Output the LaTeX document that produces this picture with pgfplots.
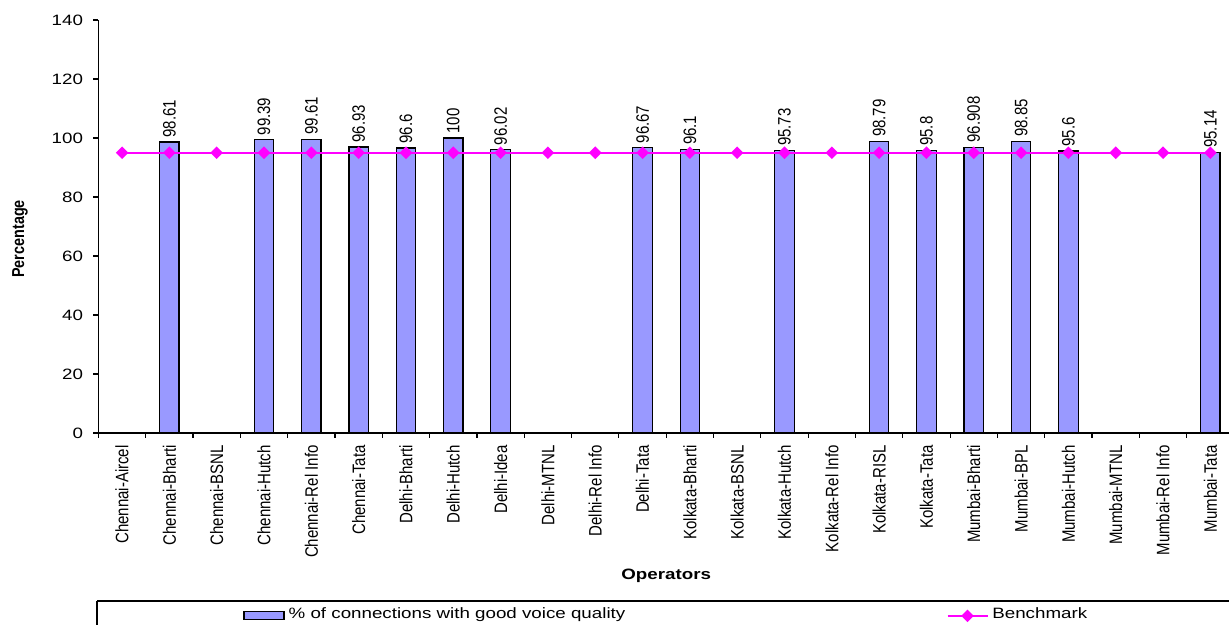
\documentclass[border=0pt]{standalone}
\usepackage{fontspec}
\setmainfont{Liberation Sans}[FakeStretch=1.25]
\newfontfamily\rotfont{Liberation Sans}
\usepackage{graphicx}
\usepackage{pgfplots}
\usepackage{pgfplotstable}
\pgfplotsset{compat=1.18}
\definecolor{barblue}{HTML}{9999FF}
\definecolor{bench}{HTML}{FF00FF}
\newcommand\R[1]{\scalebox{1}[1.2]{#1}}

\pgfplotstableread{
x y lab
1 98.61 98.61
3 99.39 99.39
4 99.61 99.61
5 96.93 96.93
6 96.6 96.6
7 100 100
8 96.02 96.02
11 96.67 96.67
12 96.1 96.1
14 95.73 95.73
16 98.79 98.79
17 95.8 95.8
18 96.908 96.908
19 98.85 98.85
20 95.6 95.6
23 95.14 95.14
}\bars

\pgfplotstableread{
x y
0 95
1 95
2 95
3 95
4 95
5 95
6 95
7 95
8 95
9 95
10 95
11 95
12 95
13 95
14 95
15 95
16 95
17 95
18 95
19 95
20 95
21 95
22 95
23 95
}\benchtab

\begin{document}
\begin{tikzpicture}
\useasboundingbox (0,0) rectangle (614.5pt,312.5pt);
\clip (0,0) rectangle (614.5pt,312.5pt);
\begin{axis}[
  at={(49.2pt,96pt)}, anchor=south west,
  scale only axis, width=567.8pt, height=206.5pt,
  xmin=-0.5, xmax=23.5, ymin=0, ymax=140,
  axis lines*=left,
  axis line style={line width=0.6pt, -},
  ytick={0,20,...,140},
  xtick={0,...,23},
  xticklabels={\R{Chennai-Aircel},\R{Chennai-Bharti},\R{Chennai-BSNL},\R{Chennai-Hutch},\R{Chennai-Rel Info},\R{Chennai-Tata},\R{Delhi-Bharti},\R{Delhi-Hutch},\R{Delhi-Idea},\R{Delhi-MTNL},\R{Delhi-Rel Info},\R{Delhi-Tata},\R{Kolkata-Bharti},\R{Kolkata-BSNL},\R{Kolkata-Hutch},\R{Kolkata-Rel Info},\R{Kolkata-RISL},\R{Kolkata-Tata},\R{Mumbai-Bharti},\R{Mumbai-BPL},\R{Mumbai-Hutch},\R{Mumbai-MTNL},\R{Mumbai-Rel Info},\R{Mumbai-Tata}},
  minor xtick={-0.5,0.5,...,23.5},
  tick align=outside,
  major tick length=2.5pt, minor tick length=2.5pt,
  major x tick style={draw=none},
  every tick/.style={line width=0.6pt, black},
  minor x tick style={line width=0.6pt, black},
  xticklabel style={font=\rotfont\fontsize{7.5}{9}\selectfont, yshift=-3.5pt, rotate=90, anchor=east, inner sep=0pt},
  yticklabel style={font=\fontsize{7.5}{9}\selectfont, /pgf/number format/assume math mode=true, inner sep=0pt, xshift=-5pt},
  ylabel={\R{Percentage}},
  ylabel style={font=\rotfont\bfseries\fontsize{7.2}{8}\selectfont, at={(axis description cs:-0.069,0.47)}, anchor=center, rotate=0},
  xlabel={Operators},
  xlabel style={font=\bfseries\fontsize{7.5}{9}\selectfont, at={(axis description cs:0.5,-0.346)}, anchor=center},
  legend columns=2,
  legend style={at={(axis description cs:0.1274,-0.4405)}, anchor=west, draw=none, fill=none, inner sep=0pt, row sep=0pt,
    font=\fontsize{7.5}{9}\selectfont, nodes={inner sep=2pt, anchor=base west},
    /tikz/every even column/.style={column sep=0pt}},
  clip=false,
]
\addplot[ybar, bar width=0.41, fill=barblue, draw=black, line width=0.6pt,
  point meta=explicit symbolic, nodes near coords={\R{\pgfplotspointmeta}},
  nodes near coords style={rotate=90, anchor=west, font=\rotfont\fontsize{7.5}{9}\selectfont, inner sep=2pt, black},
  legend image code/.code={\draw[fill=barblue, draw=black, line width=0.6pt] (0pt,-0.5pt) rectangle (20pt,3.5pt);}]
  table[x=x, y=y, meta=lab] {\bars};
\addlegendentry{\makebox[327pt][l]{\% of connections with good voice quality}}
\addplot[bench, line width=0.85pt, mark=square*, mark size=1.8pt, mark options={rotate=45, fill=bench, draw=bench},
  legend image code/.code={\draw[bench, line width=0.85pt] (0pt,1.5pt) -- (20pt,1.5pt); \fill[bench, rotate around={45:(10pt,1.5pt)}] (8.2pt,-0.3pt) rectangle (11.8pt,3.3pt);}]
  table[x=x, y=y] {\benchtab};
\addlegendentry{Benchmark}
\end{axis}
\draw[line width=0.6pt] (48.5pt,12pt) -- (614.5pt,12pt);
\draw[line width=0.6pt] (48.5pt,12pt) -- (48.5pt,0pt);
\end{tikzpicture}
\end{document}
